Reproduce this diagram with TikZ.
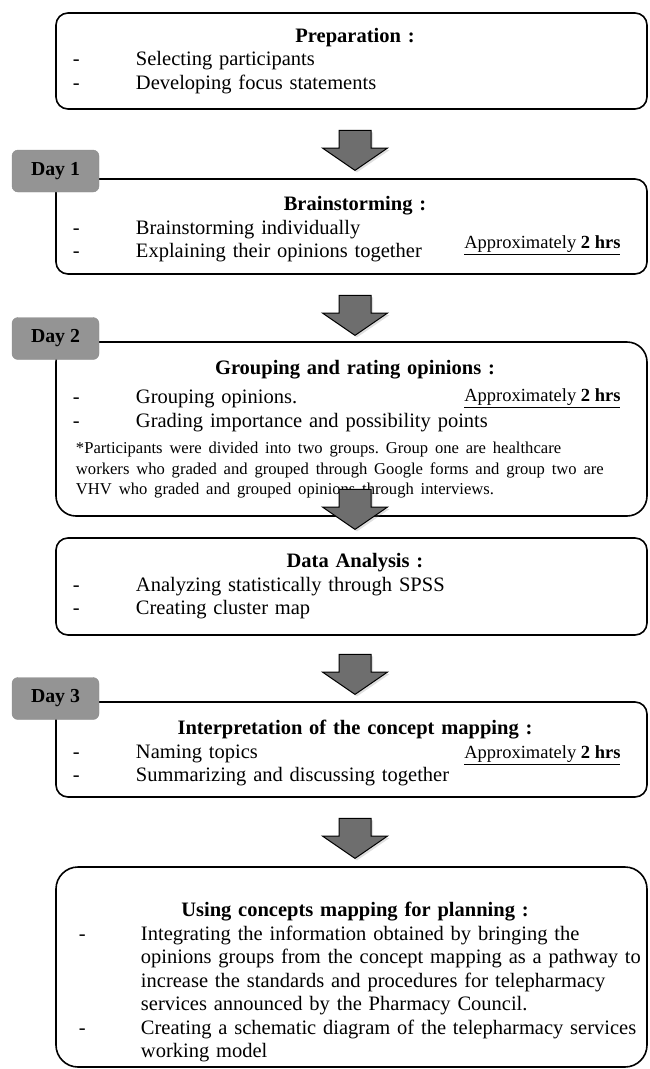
\documentclass[tikz,border=0pt]{standalone}
\usepackage{fontspec}
\setmainfont{Liberation Serif}
\usetikzlibrary{shapes.arrows,shadows}

\frenchspacing
\newcommand{\stagetitle}[1]{\makebox[591pt]{\hspace*{7pt}\textbf{#1}}}
\newcommand{\dashitem}[1]{\hspace*{17pt}\makebox[63pt][l]{-}#1}
\newcommand{\noteline}[1]{{\fontsize{16.6}{20.5}\selectfont\hspace*{20pt}#1}}
\newcommand{\approxtime}{\underline{Approximately \textbf{2 hrs}}}

\begin{document}
\begin{tikzpicture}[x=1pt, y=-1pt,
      stage/.style={draw, line width=1.6pt, rounded corners=12pt, minimum width=591pt,
                    text width=591pt, inner xsep=0pt, align=left,
                    font=\fontsize{20.5}{23.5}\selectfont},
      daytab/.style={draw=black!45, fill=black!42, rounded corners=6pt, minimum width=87pt,
                     minimum height=42pt, font=\fontsize{19.8}{22}\selectfont\bfseries},
      flow/.style={single arrow, draw, line width=1pt, fill=black!57, anchor=tip,
                   shape border rotate=270, minimum height=40pt, minimum width=64pt,
                   single arrow head extend=16.5pt, single arrow tip angle=111,
                   inner xsep=15.5pt, inner ysep=0pt,
                   drop shadow={opacity=.25, shadow xshift=2pt, shadow yshift=-2pt}},
      approx/.style={anchor=east, font=\fontsize{18.5}{20}\selectfont}
    ]
      \useasboundingbox (0,0) rectangle (649,1069);

      \node[stage, minimum height=96pt] (prep) at (351.5,61) {\stagetitle{Preparation :}\\
        \dashitem{Selecting participants}\\
        \dashitem{Developing focus statements}};
      \node[stage, minimum height=95pt] (brain) at (351.5,226.5) {\rule{0pt}{20pt}\stagetitle{Brainstorming :}\\
        \dashitem{Brainstorming individually}\\
        \dashitem{Explaining their opinions together}};
      \node[stage, minimum height=174pt, rounded corners=20pt] (group) at (351.5,429) {\stagetitle{Grouping and rating opinions :}\\[6pt]
        \dashitem{Grouping opinions.}\\
        \dashitem{Grading importance and possibility points}\\[3pt]
        \noteline{*Participants were divided into two groups. Group one are healthcare}\\[-3pt]
        \noteline{workers who graded and grouped through Google forms and group two are}\\[-3pt]
        \noteline{VHV who graded and grouped opinions through interviews.}};
      \node[stage, minimum height=97pt] (data) at (351.5,586.5) {\stagetitle{Data Analysis :}\\
        \dashitem{Analyzing statistically through SPSS}\\
        \dashitem{Creating cluster map}};
      \node[stage, minimum height=95pt] (interp) at (351.5,749.5) {\rule{0pt}{22pt}\stagetitle{Interpretation of the concept mapping :}\\
        \dashitem{Naming topics}\\
        \dashitem{Summarizing and discussing together}};
      \node[stage, minimum height=200pt, rounded corners=22pt] (plan) at (351.5,967) {\rule{0pt}{45pt}\stagetitle{Using concepts mapping for planning :}\\
        \hspace*{23pt}\makebox[62pt][l]{-}Integrating the information obtained by bringing the\\
        \hspace*{85pt}opinions groups from the concept mapping as a pathway to\\
        \hspace*{85pt}increase the standards and procedures for telepharmacy\\
        \hspace*{85pt}services announced by the Pharmacy Council.\\
        \hspace*{23pt}\makebox[62pt][l]{-}Creating a schematic diagram of the telepharmacy services\\
        \hspace*{85pt}working model};

      \node[approx] (time1) at (624,245) {\approxtime};
      \node[approx] (time2) at (624,398) {\approxtime};
      \node[approx] (time3) at (624,755) {\approxtime};

      \node[daytab] (day1) at (55.5,171) {Day 1};
      \node[daytab] (day2) at (55.5,338.5) {Day 2};
      \node[daytab] (day3) at (55.5,698.5) {Day 3};

      \node[flow] (arr1) at (355,171) {};
      \node[flow] (arr2) at (355,336) {};
      \node[flow] (arr3) at (355,530) {};
      \node[flow] (arr4) at (355,695) {};
      \node[flow] (arr5) at (355,859) {};
    \end{tikzpicture}
\end{document}
